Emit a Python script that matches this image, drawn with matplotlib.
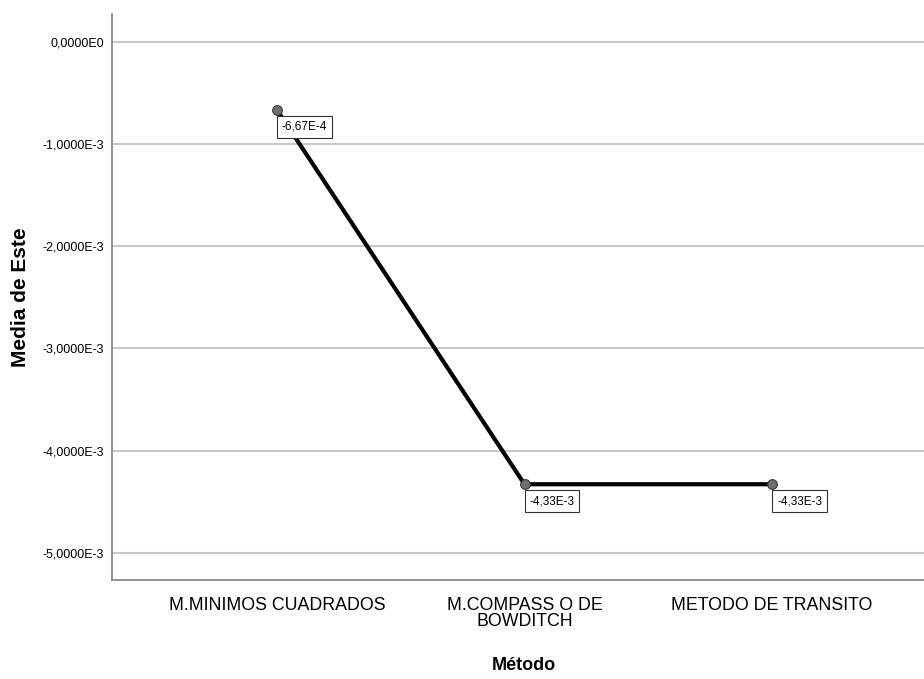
import matplotlib
matplotlib.use("Agg")
import matplotlib.pyplot as plt
from matplotlib import font_manager
from matplotlib.ticker import FuncFormatter

# Data
metodos = ["M.MINIMOS CUADRADOS", "M.COMPASS O DE\nBOWDITCH", "METODO DE TRANSITO"]
media_este = [-6.67e-4, -4.33e-3, -4.33e-3]
etiquetas = ["-6,67E-4", "-4,33E-3", "-4,33E-3"]
yticks = [0.0, -1e-3, -2e-3, -3e-3, -4e-3, -5e-3]

names = {f.name for f in font_manager.fontManager.ttflist}
narrow = "Liberation Sans Narrow" if "Liberation Sans Narrow" in names else "Liberation Sans"
plt.rcParams["font.family"] = [narrow, "DejaVu Sans"]


def sci_es(v, pos):
    if v == 0:
        return "0,0000E0"
    exp = int(f"{v:e}".split("e")[1])
    mant = v / 10 ** exp
    return f"{mant:.4f}".replace(".", ",") + f"E{exp}"


fig = plt.figure(figsize=(9.24, 6.79), dpi=100)
ax = fig.add_axes([112 / 924, 1 - 580 / 679, (937 - 112) / 924, (580 - 14) / 679])

x = list(range(len(metodos)))
ax.plot(x, media_este, color="black", linewidth=3, zorder=3)
ax.plot(x, media_este, linestyle="none", marker="o", markersize=7,
        markerfacecolor="#6e6e6e", markeredgecolor="#3a3a3a", markeredgewidth=0.8, zorder=4)

for xi, v, lab in zip(x, media_este, etiquetas):
    ax.annotate(lab, xy=(xi, v), xytext=(5, -11), textcoords="offset pixels",
                ha="left", va="top", fontsize=8.5, family=[narrow, "DejaVu Sans"],
                bbox=dict(boxstyle="square,pad=0.42", fc="white", ec="#333333", lw=0.8),
                zorder=5)

ax.set_xlim(-2 / 3, 2 + 2 / 3)
ax.set_ylim(-5.267e-3, 0.271e-3)
ax.set_yticks(yticks)
ax.yaxis.set_major_formatter(FuncFormatter(sci_es))
ax.set_xticks(x)
ax.set_xticklabels(metodos, fontsize=12.8, linespacing=0.95)
ax.tick_params(axis="y", length=0, pad=6, labelsize=9)
ax.tick_params(axis="x", length=0, pad=12)

ax.grid(axis="y", color="#c8c8c8", linewidth=1.5)
ax.set_axisbelow(True)
for s in ["top", "right"]:
    ax.spines[s].set_visible(False)
for s in ["left", "bottom"]:
    ax.spines[s].set_color("#7f7f7f")
    ax.spines[s].set_linewidth(1.2)

fig.text(21 / 924, 1 - 297 / 679, "Media de Este", rotation=90, ha="center", va="center",
         fontsize=15, fontweight="bold", family="Liberation Sans")
fig.text(524 / 924, 1 - 665 / 679, "Método", ha="center", va="center",
         fontsize=13, fontweight="bold", family=[narrow, "Liberation Sans"])

fig.savefig("out.png", dpi=100)
